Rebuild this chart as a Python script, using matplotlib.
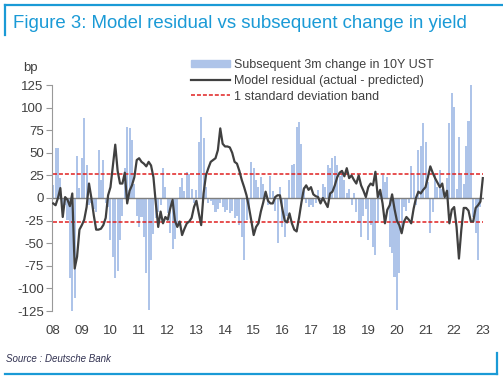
import numpy as np
import matplotlib
matplotlib.use("Agg")
import matplotlib.pyplot as plt
from matplotlib.lines import Line2D
from matplotlib.patches import Patch

plt.rcParams['font.family'] = ['Liberation Sans', 'DejaVu Sans']

# monthly data, Jan 2008 .. Jan 2023 (bp)
residual = [
    -6, -8, 0, 11, -21, 1, -2, -9, 5, -78, -65, -35,
    -30, -24, -10, 16, 0, -19, -35, -35, -34, -30, -22, 3,
    12, 35, 59, 30, 16, 16, 28, -6, 8, 14, 23, 42,
    44, 40, 38, 35, 40, 36, 23, -6, -32, -15, -28, -21,
    -24, -12, -2, -25, -32, -26, -41, -34, -28, -26, -22, -10,
    -3, -17, -30, 5, 25, 33, 40, 42, 44, 53, 77, 60,
    57, 57, 56, 50, 40, 38, 30, 20, 12, 3, -10, -25,
    -41, -32, -28, -15, -5, 7, -3, -6, -6, 1, 3, 3,
    -12, -25, -27, -17, -28, -35, -37, -22, -5, 10, 14, 9,
    12, 4, 2, 1, -6, 0, -5, -10, 5, 7, 14, 23,
    28, 30, 24, 33, 22, 25, 20, 16, 25, 14, 8, 1,
    12, 16, 14, 29, 1, 9, -6, -28, -13, -8, 4, -12,
    -25, -30, -39, -26, -21, -24, -28, -12, 0, 7, 5, 9,
    12, 23, 35, 28, 22, 17, 12, 16, 1, 8, -28, -13,
    -10, -32, -67, -35, -11, -11, -14, -26, -26, -11, -8, -4,
    22,
]

change_3m = [
    14, 55, 55, 22, -21, -8, -24, -88, -125, -111, 46, 11,
    44, 88, 36, -8, -5, -12, -15, 53, 20, 42, -5, -10,
    -46, -65, -89, -81, -46, -20, 33, 78, 77, 64, 15, -20,
    -32, -21, -43, -83, -124, -69, -40, -22, -15, -8, 33, 12,
    -17, -39, -56, -45, -30, 12, 22, 8, 29, 26, 10, -5,
    9, 62, 90, 66, 12, -5, -3, -8, -15, -12, -5, -10,
    -16, -13, -17, -14, -22, -20, -30, -43, -69, -24, -10, 40,
    33, 20, 12, 23, 16, 5, -8, 24, 8, -14, -50, 12,
    -32, -43, -20, 20, 36, 38, 79, 84, 60, 12, -5, -10,
    -8, -10, -6, 9, -4, 16, 12, 36, 33, 44, 46, 36,
    24, 31, 20, 5, 10, -8, 6, -15, -28, -43, -20, -12,
    -46, -30, -54, -63, -25, 8, 25, 18, 23, -54, -61, -87,
    -124, -83, -39, -10, -14, -6, 35, 25, -8, 53, 57, 83,
    62, 18, -39, -15, 27, 12, 31, 10, 4, 22, 83, 116,
    101, 10, 68, 25, 16, 57, 85, 125, -21, -39, -69, -10,
    0,
]

band_sd = 27
year_labels = ['08', '09', '10', '11', '12', '13', '14', '15',
               '16', '17', '18', '19', '20', '21', '22', '23']
y_ticks = [125, 100, 75, 50, 25, 0, -25, -50, -75, -100, -125]

blue = '#1a9ad6'
txt = '#404040'

fig = plt.figure(figsize=(5.03, 3.82), dpi=100)
ax = fig.add_axes([52 / 503, 1 - 311 / 382, 432 / 503, 226 / 382])

x = np.arange(len(residual))
ax.bar(x, change_3m, width=0.85, color='#aec4e9', linewidth=0, zorder=1)
ax.axhline(0, color='#7f7f7f', lw=1, zorder=2)
ax.plot(x, residual, color='#404040', lw=1.6, zorder=4)
ax.plot([x[0], x[-1]], [band_sd, band_sd], color='#e02020', lw=1.1,
        dashes=(2.6, 1.3), zorder=3)
ax.plot([x[0], x[-1]], [-band_sd, -band_sd], color='#e02020', lw=1.1,
        dashes=(2.6, 1.3), zorder=3)

ax.set_xlim(-0.5, len(residual) - 0.5)
ax.set_ylim(-125, 125)
ax.set_yticks(y_ticks)
ax.set_yticklabels([str(v) for v in y_ticks])
ax.set_xticks(np.arange(len(year_labels)) * 12)
ax.set_xticklabels(year_labels)
ax.tick_params(axis='y', colors='#999999', labelcolor=txt, labelsize=9.5,
               length=4, width=0.8, direction='out', pad=2)
ax.tick_params(axis='x', length=0, labelcolor=txt, labelsize=9.5, pad=10)
for s in ['top', 'right', 'bottom']:
    ax.spines[s].set_visible(False)
ax.spines['left'].set_color('#999999')
ax.spines['left'].set_linewidth(0.8)

fig.text(23 / 503, 1 - 68 / 382, 'bp', fontsize=9.5, color=txt, va='center')

handles = [Patch(color='#aec4e9'),
           Line2D([], [], color='#404040', lw=1.6),
           Line2D([], [], color='#e02020', lw=1.1, dashes=(2.6, 1.3))]
labels = ['Subsequent 3m change in 10Y UST',
          'Model residual (actual - predicted)',
          '1 standard deviation band']
fig.legend(handles, labels, loc='upper left',
           bbox_to_anchor=(186 / 503, 1 - 54 / 382), frameon=False,
           fontsize=9, labelcolor=txt, handlelength=3.1, handleheight=0.55,
           handletextpad=0.3, labelspacing=0.3, borderaxespad=0)

fig.text(13 / 503, 1 - 24 / 382,
         'Figure 3: Model residual vs subsequent change in yield',
         fontsize=13.4, color=blue, va='center')
fig.text(6 / 503, 1 - 359 / 382, 'Source : Deutsche Bank', fontsize=7,
         style='italic', color='#303050', va='center')

# frame lines
fig.add_artist(Line2D([5 / 503, 1], [1 - 5 / 382] * 2, color=blue, lw=1.6))
fig.add_artist(Line2D([5 / 503] * 2, [1 - 5 / 382, 1 - 35 / 382],
                      color=blue, lw=1.6))
fig.add_artist(Line2D([5 / 503, 497 / 503], [1 - 374 / 382] * 2,
                      color=blue, lw=1.6))
fig.add_artist(Line2D([497 / 503] * 2, [1 - 353 / 382, 1 - 374 / 382],
                      color=blue, lw=1.6))

fig.savefig('out.png', dpi=100)
